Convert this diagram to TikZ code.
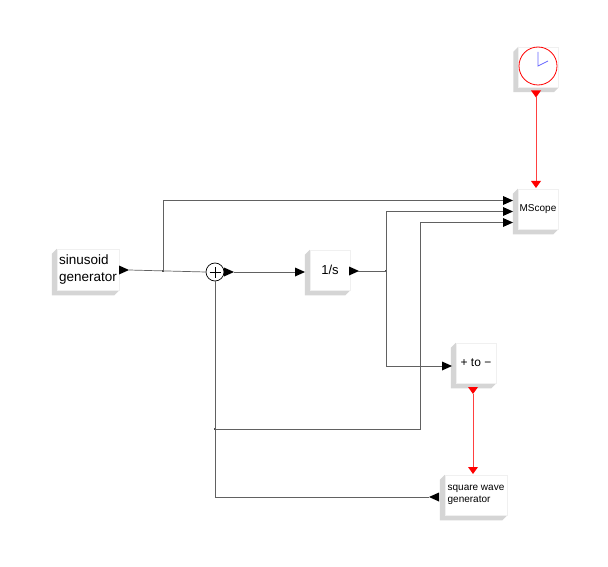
\documentclass[tikz,border=0pt]{standalone}
\usepackage{fontspec}
\setmainfont{Liberation Sans}
\usetikzlibrary{backgrounds,calc}
\tikzset{
  blk/.style={draw=gray!12, fill=white, line width=0.5pt, minimum width=40pt, minimum height=40pt, inner sep=0pt},
  shd/.style={fill=gray!33},
  wire/.style={draw=black!62, line width=0.7pt},
  rwire/.style={draw=red!75, line width=0.7pt},
  portr/.pic={\fill[black] (0,-4.5) -- (10,0) -- (0,4.5) -- cycle;},
  portl/.pic={\fill[black] (10,-4.5) -- (0,0) -- (10,4.5) -- cycle;},
  portd/.pic={\fill[red] (-5,0) -- (5,0) -- (0,7) -- cycle;},
  jdot/.style={fill=black!70, inner sep=0pt, minimum size=1.6pt, rectangle},
}
\newcommand\blkshadow[1]{%
  \fill[shd] (#1.north west) -- ++(-5,5) |- ($(#1.south east)+(-5,5)$) -- (#1.south east) -- (#1.south west) -- cycle;}
\begin{document}
\begin{tikzpicture}[x=1pt,y=-1pt]
\useasboundingbox (0,0) rectangle (608,567);

% blocks
\node[blk, minimum width=62pt, minimum height=41pt, align=left, font=\fontsize{13.5}{17}\selectfont] (sin) at (88,269.5) {sinusoid\\generator};
\node[blk, font=\fontsize{13}{15}\selectfont] (int) at (330,270) {1/s};
\node[blk, font=\fontsize{10}{12}\selectfont] (ms) at (538,209) {MScope};
\node[blk] (clk) at (538.5,67) {};
\node[blk, font=\fontsize{12}{14}\selectfont] (pm) at (476,363) {+ to −};
\node[blk, minimum width=62pt, align=left, font=\fontsize{10}{12}\selectfont] (sq) at (476,495) {square wave\\generator};
\node[draw=black, circle, minimum size=18pt, inner sep=0pt, line width=0.7pt] (sum) at (215,272) {};
\draw[line width=0.7pt] ([xshift=-5.5pt]sum.center) -- ([xshift=5.5pt]sum.center)
  ([yshift=-5.5pt]sum.center) -- ([yshift=5.5pt]sum.center);

\begin{scope}[on background layer]
  \fill[white] (0,0) rectangle (608,567);
  \blkshadow{sin}
  \blkshadow{int}
  \blkshadow{ms}
  \blkshadow{clk}
  \blkshadow{pm}
  \blkshadow{sq}
\end{scope}

% clock face
\draw[red, line width=0.8pt] (538,66) circle (19);
\draw[blue!60, line width=0.7pt] (538,52) -- (538,66) -- (548,61);

% ports
\coordinate (sinout) at (129,270);
\coordinate (sumout) at (234,272);
\coordinate (intin) at (295,272);
\coordinate (intout) at (358,271);
\coordinate (ms1) at (503,200.5);
\coordinate (ms2) at (503,211.5);
\coordinate (ms3) at (503,222.5);
\coordinate (pmin) at (442,366);
\coordinate (sqin) at (429,497);
\coordinate (clkout) at (536,97);
\coordinate (msev) at (536,181);
\coordinate (pmout) at (473,394);
\coordinate (sqev) at (473,467);
\coordinate (k) at (420,222.5);

\pic at (119,270) {portr};
\pic at (224,272) {portr};
\pic at (intin) {portr};
\pic at (349,271) {portr};
\pic at (ms1) {portr};
\pic at (ms2) {portr};
\pic at (ms3) {portr};
\pic at (pmin) {portr};
\pic at (sqin) {portl};
\pic at (536,90.5) {portd};
\pic at (msev) {portd};
\pic at (473,387) {portd};
\pic at (sqev) {portd};

% junctions
\node[jdot] (j1) at (163,271) {};
\node[jdot] (j2) at (386,271) {};
\node[jdot] (j3) at (215,429) {};

% wires
\draw[wire] (sinout) -- (sum.west);
\draw[wire] (j1.center) |- (ms1);
\draw[wire] (sumout) -- (intin);
\draw[wire] (intout) -- (j2.center);
\draw[wire] (j2.center) |- (ms2);
\draw[wire] (j2.center) |- (pmin);
\draw[wire] (sum.south) |- (sqin);
\draw[wire] (j3.center) -| (k) -- (ms3);
\draw[rwire] (clkout) -- (msev);
\draw[rwire] (pmout) -- (sqev);
\end{tikzpicture}
\end{document}
